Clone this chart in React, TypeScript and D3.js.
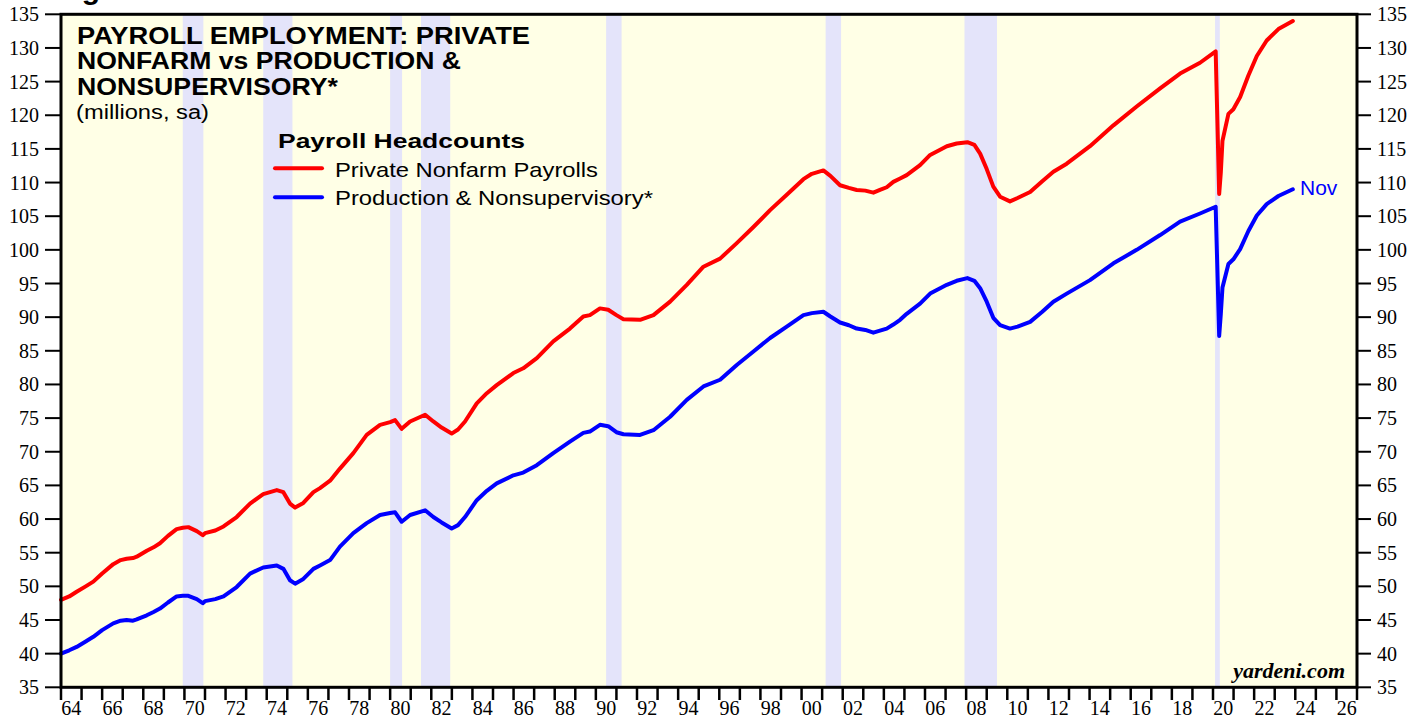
import React from "react";
import * as d3 from "d3";

// ---- data (decimal year, millions, sa) ----
const dates = [
  1964.0, 1964.4, 1964.76, 1965.2, 1965.57, 1966.0, 1966.54, 1966.9, 1967.19, 1967.5, 1967.68,
  1968.17, 1968.5, 1968.81, 1969.2, 1969.62, 1969.92, 1970.19, 1970.6, 1970.89, 1971.0, 1971.5,
  1971.9, 1972.54, 1973.19, 1973.83, 1974.49, 1974.81, 1975.13, 1975.38, 1975.78, 1976.27, 1976.59,
  1977.08, 1977.56, 1978.21, 1978.86, 1979.51, 1980.0, 1980.24, 1980.56, 1980.97, 1981.7, 1982.1,
  1982.5, 1982.99, 1983.3, 1983.64, 1984.21, 1984.7, 1985.18, 1985.99, 1986.47, 1987.13, 1987.93,
  1988.74, 1989.39, 1989.71, 1990.2, 1990.6, 1991.0, 1991.34, 1992.15, 1992.8, 1993.61, 1994.42,
  1995.23, 1996.04, 1996.85, 1997.66, 1998.47, 1999.28, 2000.09, 2000.5, 2001.06, 2001.4, 2001.87,
  2002.3, 2002.68, 2003.1, 2003.49, 2003.81, 2004.14, 2004.46, 2004.79, 2005.11, 2005.76, 2006.25,
  2007.06, 2007.54, 2008.06, 2008.4, 2008.68, 2009.0, 2009.32, 2009.65, 2010.13, 2010.5, 2011.11,
  2011.7, 2012.24, 2012.89, 2014.02, 2015.16, 2016.29, 2017.43, 2018.4, 2019.37, 2020.13, 2020.3,
  2020.38, 2020.46, 2020.75, 2020.99, 2021.32, 2021.72, 2022.13, 2022.61, 2023.18, 2023.88,
];

const privateNonfarm = [
  48.0, 48.5, 49.2, 50.0, 50.7, 51.9, 53.3, 53.9, 54.1, 54.2, 54.4,
  55.3, 55.8, 56.4, 57.5, 58.5, 58.7, 58.8, 58.2, 57.6, 57.9, 58.3,
  58.9, 60.3, 62.3, 63.7, 64.3, 64.0, 62.3, 61.7, 62.4, 64.0, 64.6,
  65.7, 67.5, 69.8, 72.5, 74.0, 74.4, 74.7, 73.4, 74.5, 75.5, 74.5,
  73.6, 72.7, 73.3, 74.5, 77.2, 78.7, 79.9, 81.7, 82.4, 83.9, 86.4,
  88.3, 90.1, 90.3, 91.3, 91.1, 90.3, 89.7, 89.6, 90.3, 92.3, 94.8,
  97.5, 98.7, 101.0, 103.4, 105.9, 108.2, 110.5, 111.3, 111.8, 111.0, 109.6,
  109.2, 108.9, 108.8, 108.5, 108.9, 109.3, 110.1, 110.6, 111.1, 112.6, 114.1,
  115.4, 115.8, 116.0, 115.6, 114.3, 112.0, 109.4, 107.9, 107.2, 107.7, 108.6,
  110.2, 111.6, 112.8, 115.4, 118.5, 121.3, 124.0, 126.2, 127.8, 129.5, 108.3,
  111.5, 116.2, 120.2, 120.9, 122.7, 125.9, 128.8, 131.1, 132.8, 134.0,
];

const productionNonsup = [
  40.0, 40.5, 41.0, 41.8, 42.5, 43.5, 44.5, 44.9, 45.0, 44.9, 45.1,
  45.7, 46.2, 46.7, 47.6, 48.5, 48.6, 48.6, 48.1, 47.5, 47.8, 48.1,
  48.5, 49.9, 51.9, 52.8, 53.1, 52.6, 50.9, 50.4, 51.1, 52.6, 53.1,
  53.9, 55.9, 57.9, 59.4, 60.6, 60.9, 61.0, 59.6, 60.6, 61.3, 60.3,
  59.5, 58.6, 59.1, 60.3, 62.8, 64.2, 65.3, 66.5, 66.9, 68.0, 69.8,
  71.5, 72.8, 73.0, 74.0, 73.8, 72.9, 72.6, 72.5, 73.2, 75.2, 77.7,
  79.7, 80.7, 82.9, 84.9, 86.9, 88.6, 90.3, 90.6, 90.8, 90.1, 89.2,
  88.8, 88.3, 88.1, 87.7, 88.0, 88.3, 88.9, 89.6, 90.5, 92.0, 93.5,
  94.8, 95.4, 95.8, 95.4, 94.3, 92.3, 89.9, 88.8, 88.3, 88.6, 89.3,
  90.8, 92.3, 93.5, 95.5, 98.0, 100.0, 102.2, 104.2, 105.4, 106.4, 87.2,
  90.5, 94.4, 97.9, 98.6, 100.1, 102.8, 105.1, 106.8, 108.0, 109.0,
];

const recessionStarts = [1969.92, 1973.83, 1980.0, 1981.5, 1990.5, 2001.17, 2007.92, 2020.1];
const recessionEnds = [1970.92, 1975.25, 1980.58, 1982.92, 1991.25, 2001.92, 2009.5, 2020.33];

const yTicks = d3.range(35, 136, 5);
const yearTicks = d3.range(1964, 2028, 1);
const yearLabels = d3.range(1964, 2027, 2);

const titleLines = ["PAYROLL EMPLOYMENT: PRIVATE", "NONFARM vs PRODUCTION &", "NONSUPERVISORY*"];
const seriesNames = ["Private Nonfarm Payrolls", "Production & Nonsupervisory*"];

const SANS = '"Liberation Sans", Arial, Helvetica, sans-serif';
const SERIF = '"Liberation Serif", "Times New Roman", serif';

export default function App() {
  const W = 1425, H = 719;
  const left = 61, right = 1357, top = 14.3, bottom = 687.3;
  const x = d3.scaleLinear().domain([1964, 2027]).range([left, right]);
  const y = d3.scaleLinear().domain([35, 135]).range([bottom, top]);

  const line = (vals: number[]) =>
    d3.line<number>().x((_, i) => x(dates[i])).y((v) => y(v)).curve(d3.curveLinear)(vals) || "";

  const titleWidths = [453, 384, 261];
  const legendWidths = [263, 318];
  const colors = ["#ff0000", "#0000ff"];

  return (
    <svg width={W} height={H} style={{ position: "fixed", left: 0, top: 0, background: "#fff" }}>
      <text x={55} y={-1} fontFamily={SANS} fontWeight="bold" fontSize={30}>Figure 1.</text>
      <rect x={left} y={top} width={right - left} height={bottom - top} fill="#ffffe6" />
      {recessionStarts.map((s, i) => (
        <rect key={i} x={x(s)} y={top} width={x(recessionEnds[i]) - x(s)} height={bottom - top} fill="#e4e4fa" />
      ))}

      {/* title */}
      {titleLines.map((t, i) => (
        <text key={t} x={77} y={43.5 + i * 25.5} fontFamily={SANS} fontWeight="bold" fontSize={23}
          textLength={titleWidths[i]} lengthAdjust="spacingAndGlyphs">{t}</text>
      ))}
      <text x={76} y={119} fontFamily={SANS} fontSize={20} textLength={133} lengthAdjust="spacingAndGlyphs">(millions, sa)</text>

      {/* legend */}
      <text x={278} y={148.3} fontFamily={SANS} fontWeight="bold" fontSize={21} textLength={247} lengthAdjust="spacingAndGlyphs">Payroll Headcounts</text>
      {seriesNames.map((n, i) => (
        <g key={n}>
          <line x1={275} x2={322} y1={168.3 + i * 29} y2={168.3 + i * 29} stroke={colors[i]} strokeWidth={4} strokeLinecap="round" />
          <text x={335} y={176.7 + i * 28.5} fontFamily={SANS} fontSize={21} textLength={legendWidths[i]} lengthAdjust="spacingAndGlyphs">{n}</text>
        </g>
      ))}

      {/* series */}
      <path d={line(productionNonsup)} fill="none" stroke="#0000ff" strokeWidth={4} strokeLinejoin="round" strokeLinecap="round" />
      <path d={line(privateNonfarm)} fill="none" stroke="#ff0000" strokeWidth={4} strokeLinejoin="round" strokeLinecap="round" />
      <text x={1300} y={195} fontFamily={SANS} fontSize={21} fill="#0000ff">Nov</text>

      <text x={1345} y={678} textAnchor="end" fontFamily={SERIF} fontWeight="bold" fontStyle="italic" fontSize={22}>yardeni.com</text>

      {/* frame */}
      <rect x={left} y={top} width={right - left} height={bottom - top} fill="none" stroke="#000" strokeWidth={3} />

      {/* y axes */}
      {yTicks.map((v) => (
        <g key={v}>
          <line x1={45} x2={left} y1={y(v)} y2={y(v)} stroke="#000" strokeWidth={2} />
          <text x={39} y={y(v) + 7} textAnchor="end" fontFamily={SERIF} fontSize={20}>{v}</text>
          <line x1={right} x2={1371} y1={y(v)} y2={y(v)} stroke="#000" strokeWidth={2} />
          <text x={1377} y={y(v) + 7} textAnchor="start" fontFamily={SERIF} fontSize={20}>{v}</text>
        </g>
      ))}

      {/* x axis */}
      {yearTicks.map((t) => (
        <line key={t} x1={x(t)} x2={x(t)} y1={bottom} y2={700} stroke="#000" strokeWidth={2.5} />
      ))}
      {yearLabels.map((t) => (
        <text key={t} x={x(t + 0.5)} y={715} textAnchor="middle" fontFamily={SERIF} fontSize={20}>
          {String(t % 100).padStart(2, "0")}
        </text>
      ))}
    </svg>
  );
}
